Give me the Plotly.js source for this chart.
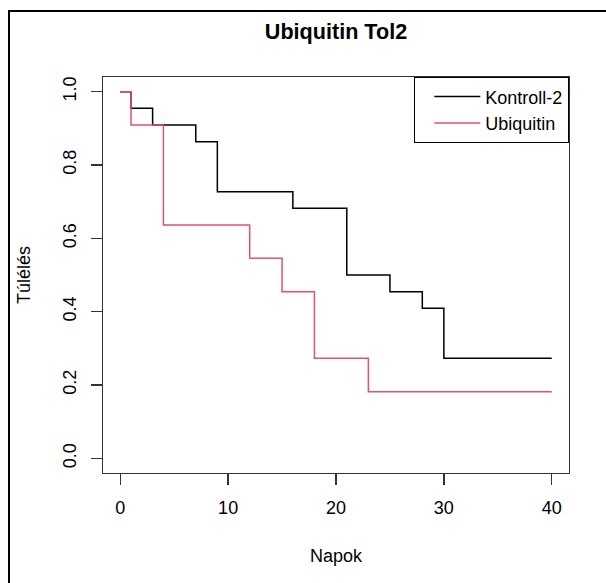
<!DOCTYPE html>
<html>
<head>
<meta charset="utf-8">
<script src="https://cdn.plot.ly/plotly-3.0.1.min.js"></script>
<style>
  html, body { margin: 0; padding: 0; background: #fff; }
  #wrap { position: relative; width: 606px; height: 583px; }
  #chart { width: 606px; height: 583px; }
  #frame { position: absolute; left: 8px; top: 10px; width: 620px; height: 600px;
           border-left: 2px solid #000; border-top: 2px solid #000; pointer-events: none; }
</style>
</head>
<body>
<div id="wrap">
  <div id="chart"></div>
  <div id="frame"></div>
</div>
<script>
// Kaplan-Meier survival steps
const kontrollTime = [0, 1, 3, 7, 9, 16, 21, 25, 28, 30, 40];
const kontrollSurv = [1, 0.9545, 0.9091, 0.8636, 0.7273, 0.6818, 0.5, 0.4545, 0.4091, 0.2727, 0.2727];
const ubiTime = [0, 1, 4, 12, 15, 18, 23, 40];
const ubiSurv = [1, 0.9091, 0.6364, 0.5455, 0.4545, 0.2727, 0.1818, 0.1818];
const seriesNames = ['Kontroll-2', 'Ubiquitin'];
const xTicks = [0, 10, 20, 30, 40];
const yTicks = [0, 0.2, 0.4, 0.6, 0.8, 1.0];

const FONT = 'Liberation Sans, Arial, sans-serif';
const AXC = '#333';

const traces = [
  { x: kontrollTime, y: kontrollSurv, name: seriesNames[0], mode: 'lines',
    line: { shape: 'hv', color: '#000000', width: 1.5 } },
  { x: ubiTime, y: ubiSurv, name: seriesNames[1], mode: 'lines',
    line: { shape: 'hv', color: '#DF536B', width: 1.5 } }
];

const layout = {
  width: 606, height: 583,
  margin: { l: 103, r: 37, t: 77, b: 110 },
  paper_bgcolor: '#fff', plot_bgcolor: '#fff',
  font: { family: FONT, size: 18, color: '#000' },
  title: { text: '<b>Ubiquitin Tol2</b>', font: { family: FONT, size: 21.6, color: '#000' },
           x: 0.5, xref: 'paper', xanchor: 'center', y: 1 - 31 / 583, yref: 'container', yanchor: 'middle' },
  xaxis: {
    range: [-1.6, 41.6], tickvals: xTicks, ticks: 'outside', ticklen: 11, tickwidth: 1.3, tickcolor: AXC,
    showline: true, mirror: true, linecolor: AXC, linewidth: 1.3, showgrid: false, zeroline: false,
    ticklabelstandoff: 7,
    tickfont: { family: FONT, size: 18, color: '#000' },
    title: { text: 'Napok', font: { family: FONT, size: 18, color: '#000' }, standoff: 32 }
  },
  yaxis: {
    range: [-0.04, 1.04], tickvals: yTicks, tickformat: '.1f', tickangle: -90,
    ticks: 'outside', ticklen: 11, tickwidth: 1.3, tickcolor: AXC,
    showline: true, mirror: true, linecolor: AXC, linewidth: 1.3, showgrid: false, zeroline: false,
    ticklabelstandoff: 8,
    tickfont: { family: FONT, size: 18, color: '#000' },
    title: { text: 'Túlélés', font: { family: FONT, size: 18, color: '#000' }, standoff: 24 }
  },
  showlegend: true,
  legend: {
    x: 1, xanchor: 'right', y: 1, yanchor: 'top', xref: 'paper', yref: 'paper',
    bgcolor: '#fff', bordercolor: '#000', borderwidth: 1.3,
    font: { family: FONT, size: 18, color: '#000' }, itemwidth: 46, indentation: 14, tracegroupgap: 0
  }
};

Plotly.newPlot('chart', traces, layout, { displayModeBar: false, staticPlot: true });
</script>
</body>
</html>
